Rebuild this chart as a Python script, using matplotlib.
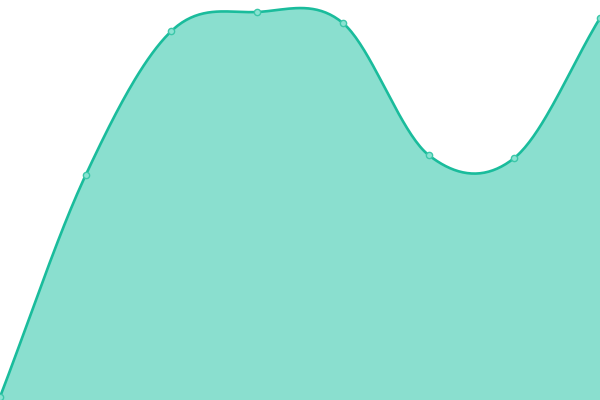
import numpy as np
import matplotlib
matplotlib.use("Agg")
import matplotlib.pyplot as plt

# data (0..400 scale, bottom = 0)
x_vals = [0, 1, 2, 3, 4, 5, 6, 7]
y_vals = [3, 225, 369, 388, 377, 245, 242, 382]

line_color = "#1abc9c"
fill_color = "#8adfcf"


def catmull_rom(xs, ys, steps=40):
    xs = np.asarray(xs, float)
    ys = np.asarray(ys, float)
    px = np.concatenate([[2 * xs[0] - xs[1]], xs, [2 * xs[-1] - xs[-2]]])
    py = np.concatenate([[2 * ys[0] - ys[1]], ys, [2 * ys[-1] - ys[-2]]])
    out_x, out_y = [], []
    t = np.linspace(0, 1, steps, endpoint=False)
    for i in range(1, len(px) - 2):
        for p, out in ((px, out_x), (py, out_y)):
            p0, p1, p2, p3 = p[i - 1], p[i], p[i + 1], p[i + 2]
            out.extend(0.5 * ((2 * p1) + (-p0 + p2) * t
                              + (2 * p0 - 5 * p1 + 4 * p2 - p3) * t ** 2
                              + (-p0 + 3 * p1 - 3 * p2 + p3) * t ** 3))
    out_x.append(xs[-1])
    out_y.append(ys[-1])
    return np.array(out_x), np.array(out_y)


sx, sy = catmull_rom(x_vals, y_vals)

fig = plt.figure(figsize=(6, 4), dpi=100)
ax = fig.add_axes([0, 0, 1, 1])
ax.fill_between(sx, sy, 0, color=fill_color, lw=0)
ax.plot(sx, sy, color=line_color, lw=1.9, solid_capstyle="round")
ax.plot(x_vals, y_vals, "o", ms=4.5, mfc="#8ae3d2", mec="#3cc7a9", mew=1.0)
ax.set_xlim(0, 7)
ax.set_ylim(0, 400)
ax.axis("off")
fig.savefig("out.png", dpi=100)
